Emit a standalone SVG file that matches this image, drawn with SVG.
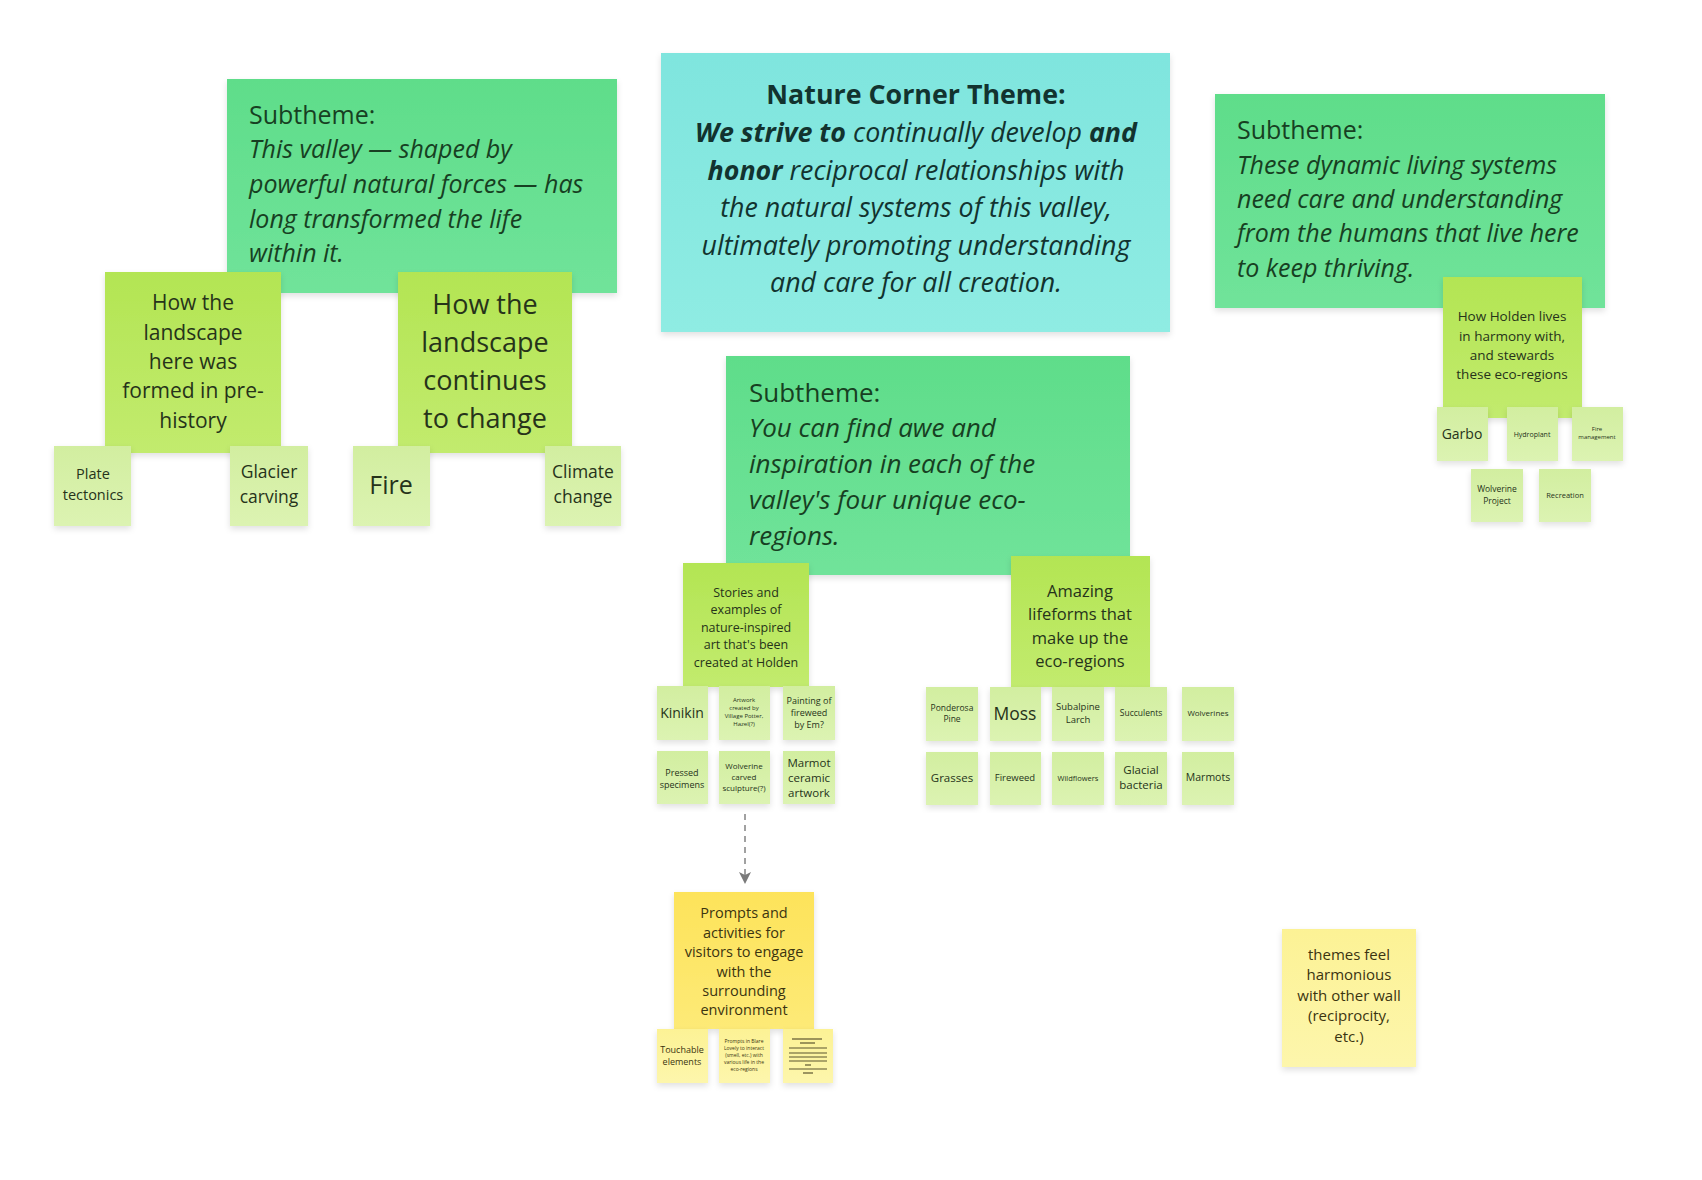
<svg xmlns="http://www.w3.org/2000/svg" width="1702" height="1180" viewBox="0 0 1702 1180">
<defs>
<filter id="sh" x="-10%" y="-10%" width="120%" height="125%">
<feDropShadow dx="0" dy="3" stdDeviation="3" flood-color="#000" flood-opacity="0.12"/>
</filter>
<linearGradient id="gTheme" x1="0" y1="0" x2="0" y2="1"><stop offset="0" stop-color="#7fe5de"/><stop offset="1" stop-color="#8fece3"/></linearGradient>
<linearGradient id="gSub" x1="0" y1="0" x2="0" y2="1"><stop offset="0" stop-color="#5fdd8a"/><stop offset="1" stop-color="#70e39a"/></linearGradient>
<linearGradient id="gLime" x1="0" y1="0" x2="0" y2="1"><stop offset="0" stop-color="#b3e553"/><stop offset="1" stop-color="#c2eb6e"/></linearGradient>
<linearGradient id="gPale" x1="0" y1="0" x2="0" y2="1"><stop offset="0" stop-color="#d2eea0"/><stop offset="1" stop-color="#dcf3b2"/></linearGradient>
<linearGradient id="gYel" x1="0" y1="0" x2="0" y2="1"><stop offset="0" stop-color="#fde35a"/><stop offset="1" stop-color="#fdea77"/></linearGradient>
<linearGradient id="gPaleYel" x1="0" y1="0" x2="0" y2="1"><stop offset="0" stop-color="#fcf295"/><stop offset="1" stop-color="#fdf6ac"/></linearGradient>
<style>
text{font-family:"Open Sans","Noto Sans","DejaVu Sans",sans-serif;}
.theme{fill:url(#gTheme);filter:url(#sh);}
.sub{fill:url(#gSub);filter:url(#sh);}
.lime{fill:url(#gLime);filter:url(#sh);}
.pale{fill:url(#gPale);filter:url(#sh);}
.yel{fill:url(#gYel);filter:url(#sh);}
.pyel{fill:url(#gPaleYel);filter:url(#sh);}
.tt{fill:#12332f;font-size:26.8px;text-anchor:middle;}
.st{fill:#173f22;font-size:25px;}
.it{font-style:italic;}
.b{font-weight:bold;}
.n{fill:#26331a;text-anchor:middle;}
.ny{fill:#3b3410;text-anchor:middle;}
.dl{stroke:#5b5530;stroke-width:1.2;}
</style>
</defs>
<rect width="1702" height="1180" fill="#ffffff"/>

<g id="connectors">
<line x1="745" y1="814" x2="745" y2="876" stroke="#8a8a8a" stroke-width="1.6" stroke-dasharray="6,5"/>
<path d="M739,872 L745,884 L751,872 L745,875 Z" fill="#7a7a7a"/>
</g>

<g id="theme">
<rect class="theme" x="661" y="53" width="509" height="279"/>
<text class="tt" x="916" y="104"><tspan class="b">Nature Corner Theme:</tspan></text>
<text class="tt" x="916" y="142"><tspan class="b it">We strive to</tspan><tspan class="it"> continually develop </tspan><tspan class="b it">and</tspan></text>
<text class="tt" x="916" y="180"><tspan class="b it">honor</tspan><tspan class="it"> reciprocal relationships with</tspan></text>
<text class="tt it" x="916" y="217">the natural systems of this valley,</text>
<text class="tt it" x="916" y="255">ultimately promoting understanding</text>
<text class="tt it" x="916" y="292">and care for all creation.</text>
</g>

<g id="subtheme-left">
<rect class="sub" x="227" y="79" width="390" height="214"/>
<text class="st" x="249" y="124">Subtheme:</text>
<text class="st it" x="249" y="158">This valley — shaped by</text>
<text class="st it" x="249" y="193">powerful natural forces — has</text>
<text class="st it" x="249" y="228">long transformed the life</text>
<text class="st it" x="249" y="262">within it.</text>
</g>

<g id="subtheme-right">
<rect class="sub" x="1215" y="94" width="390" height="214"/>
<text class="st" x="1237" y="139">Subtheme:</text>
<text class="st it" x="1237" y="174">These dynamic living systems</text>
<text class="st it" x="1237" y="208">need care and understanding</text>
<text class="st it" x="1237" y="242">from the humans that live here</text>
<text class="st it" x="1237" y="277">to keep thriving.</text>
</g>

<g id="subtheme-middle">
<rect class="sub" x="726" y="356" width="404" height="219"/>
<text class="st" x="749" y="402" style="font-size:26px">Subtheme:</text>
<text class="st it" x="749" y="437" style="font-size:26px">You can find awe and</text>
<text class="st it" x="749" y="473" style="font-size:26px">inspiration in each of the</text>
<text class="st it" x="749" y="509" style="font-size:26px">valley's four unique eco-</text>
<text class="st it" x="749" y="545" style="font-size:26px">regions.</text>
</g>

<g id="formed">
<rect class="lime" x="105" y="272" width="176" height="181"/>
<text class="n" x="193" style="font-size:21px"><tspan x="193" y="310">How the</tspan><tspan x="193" y="340">landscape</tspan><tspan x="193" y="369">here was</tspan><tspan x="193" y="398">formed in pre-</tspan><tspan x="193" y="428">history</tspan></text>
</g>

<g id="continues">
<rect class="lime" x="398" y="272" width="174" height="181"/>
<text class="n" x="485" style="font-size:27px"><tspan x="485" y="314">How the</tspan><tspan x="485" y="352">landscape</tspan><tspan x="485" y="390">continues</tspan><tspan x="485" y="428">to change</tspan></text>
</g>

<g id="plate">
<rect class="pale" x="54" y="446" width="77" height="80"/>
<text class="n" x="93" style="font-size:14.5px"><tspan x="93" y="479">Plate</tspan><tspan x="93" y="500">tectonics</tspan></text>
</g>
<g id="glacier">
<rect class="pale" x="230" y="446" width="78" height="80"/>
<text class="n" x="269" style="font-size:17.5px"><tspan x="269" y="478">Glacier</tspan><tspan x="269" y="503">carving</tspan></text>
</g>
<g id="fire">
<rect class="pale" x="353" y="446" width="77" height="80"/>
<text class="n" x="391" y="494" style="font-size:25px">Fire</text>
</g>
<g id="climate">
<rect class="pale" x="545" y="446" width="76" height="80"/>
<text class="n" x="583" style="font-size:17.5px"><tspan x="583" y="478">Climate</tspan><tspan x="583" y="503">change</tspan></text>
</g>

<g id="stories">
<rect class="lime" x="683" y="563" width="126" height="124"/>
<text class="n" x="746" style="font-size:12.5px"><tspan x="746" y="597">Stories and</tspan><tspan x="746" y="614">examples of</tspan><tspan x="746" y="632">nature-inspired</tspan><tspan x="746" y="649">art that's been</tspan><tspan x="746" y="667">created at Holden</tspan></text>
</g>

<g id="kinikin">
<rect class="pale" x="657" y="686" width="51" height="54"/>
<text class="n" x="682" y="718" style="font-size:14px">Kinikin</text>
</g>
<g id="artwork">
<rect class="pale" x="719" y="686" width="51" height="54"/>
<text class="n" x="744" style="font-size:6px"><tspan x="744" y="702">Artwork</tspan><tspan x="744" y="710">created by</tspan><tspan x="744" y="718">Village Potter,</tspan><tspan x="744" y="726">Hazel(?)</tspan></text>
</g>
<g id="painting">
<rect class="pale" x="783" y="686" width="52" height="54"/>
<text class="n" x="809" style="font-size:9px"><tspan x="809" y="704">Painting of</tspan><tspan x="809" y="716">fireweed</tspan><tspan x="809" y="728">by Em?</tspan></text>
</g>
<g id="pressed">
<rect class="pale" x="657" y="751" width="51" height="53"/>
<text class="n" x="682" style="font-size:9px"><tspan x="682" y="776">Pressed</tspan><tspan x="682" y="788">specimens</tspan></text>
</g>
<g id="wolverine-sculpture">
<rect class="pale" x="719" y="751" width="51" height="53"/>
<text class="n" x="744" style="font-size:8px"><tspan x="744" y="769">Wolverine</tspan><tspan x="744" y="780">carved</tspan><tspan x="744" y="791">sculpture(?)</tspan></text>
</g>
<g id="marmot-ceramic">
<rect class="pale" x="783" y="751" width="52" height="53"/>
<text class="n" x="809" style="font-size:11.5px"><tspan x="809" y="767">Marmot</tspan><tspan x="809" y="782">ceramic</tspan><tspan x="809" y="797">artwork</tspan></text>
</g>

<g id="prompts">
<rect class="yel" x="674" y="892" width="140" height="137"/>
<text class="ny" x="744" style="font-size:14.5px"><tspan x="744" y="918">Prompts and</tspan><tspan x="744" y="938">activities for</tspan><tspan x="744" y="957">visitors to engage</tspan><tspan x="744" y="977">with the</tspan><tspan x="744" y="996">surrounding</tspan><tspan x="744" y="1015">environment</tspan></text>
</g>
<g id="touchable">
<rect class="pyel" x="657" y="1029" width="51" height="54"/>
<text class="ny" x="682" style="font-size:9px"><tspan x="682" y="1053">Touchable</tspan><tspan x="682" y="1065">elements</tspan></text>
</g>
<g id="prompts-in">
<rect class="pyel" x="719" y="1029" width="51" height="54"/>
<text class="ny" x="744" style="font-size:5px"><tspan x="744" y="1043">Prompts in Blare</tspan><tspan x="744" y="1050">Lovely to interact</tspan><tspan x="744" y="1057">(smell, etc.) with</tspan><tspan x="744" y="1064">various life in the</tspan><tspan x="744" y="1071">eco-regions</tspan></text>
</g>
<g id="doc-note">
<rect class="pyel" x="783" y="1029" width="50" height="54"/>
<line class="dl" x1="792" y1="1039" x2="822" y2="1039"/>
<line class="dl" x1="800" y1="1043" x2="815" y2="1043"/>
<line class="dl" x1="789" y1="1048" x2="827" y2="1048"/>
<line class="dl" x1="789" y1="1053" x2="827" y2="1053"/>
<line class="dl" x1="789" y1="1057" x2="827" y2="1057"/>
<line class="dl" x1="789" y1="1061" x2="827" y2="1061"/>
<line class="dl" x1="805" y1="1065" x2="811" y2="1065"/>
<line class="dl" x1="789" y1="1069" x2="827" y2="1069"/>
<line class="dl" x1="803" y1="1073" x2="813" y2="1073"/>
</g>

<g id="lifeforms">
<rect class="lime" x="1011" y="556" width="139" height="131"/>
<text class="n" x="1080" style="font-size:16.5px"><tspan x="1080" y="597">Amazing</tspan><tspan x="1080" y="620">lifeforms that</tspan><tspan x="1080" y="644">make up the</tspan><tspan x="1080" y="667">eco-regions</tspan></text>
</g>

<g id="ponderosa">
<rect class="pale" x="926" y="687" width="52" height="54"/>
<text class="n" x="952" style="font-size:8.5px"><tspan x="952" y="711">Ponderosa</tspan><tspan x="952" y="722">Pine</tspan></text>
</g>
<g id="moss">
<rect class="pale" x="990" y="687" width="51" height="54"/>
<text class="n" x="1015" y="720" style="font-size:17.5px">Moss</text>
</g>
<g id="larch">
<rect class="pale" x="1052" y="687" width="52" height="54"/>
<text class="n" x="1078" style="font-size:9.5px"><tspan x="1078" y="710">Subalpine</tspan><tspan x="1078" y="723">Larch</tspan></text>
</g>
<g id="succulents">
<rect class="pale" x="1115" y="687" width="52" height="54"/>
<text class="n" x="1141" y="716" style="font-size:8.5px">Succulents</text>
</g>
<g id="wolverines">
<rect class="pale" x="1182" y="687" width="52" height="54"/>
<text class="n" x="1208" y="716" style="font-size:8px">Wolverines</text>
</g>
<g id="grasses">
<rect class="pale" x="926" y="752" width="52" height="53"/>
<text class="n" x="952" y="782" style="font-size:11.5px">Grasses</text>
</g>
<g id="fireweed">
<rect class="pale" x="990" y="752" width="51" height="53"/>
<text class="n" x="1015" y="781" style="font-size:9.5px">Fireweed</text>
</g>
<g id="wildflowers">
<rect class="pale" x="1052" y="752" width="52" height="53"/>
<text class="n" x="1078" y="781" style="font-size:7.5px">Wildflowers</text>
</g>
<g id="glacial-bacteria">
<rect class="pale" x="1115" y="752" width="52" height="53"/>
<text class="n" x="1141" style="font-size:11.5px"><tspan x="1141" y="774">Glacial</tspan><tspan x="1141" y="789">bacteria</tspan></text>
</g>
<g id="marmots">
<rect class="pale" x="1182" y="752" width="52" height="53"/>
<text class="n" x="1208" y="781" style="font-size:10.5px">Marmots</text>
</g>

<g id="holden">
<rect class="lime" x="1443" y="277" width="139" height="141"/>
<text class="n" x="1512" style="font-size:13.5px"><tspan x="1512" y="321">How Holden lives</tspan><tspan x="1512" y="341">in harmony with,</tspan><tspan x="1512" y="360">and stewards</tspan><tspan x="1512" y="379">these eco-regions</tspan></text>
</g>
<g id="garbo">
<rect class="pale" x="1437" y="407" width="51" height="54"/>
<text class="n" x="1462" y="439" style="font-size:14px">Garbo</text>
</g>
<g id="hydroplant">
<rect class="pale" x="1507" y="407" width="51" height="54"/>
<text class="n" x="1532" y="437" style="font-size:7px">Hydroplant</text>
</g>
<g id="fire-management">
<rect class="pale" x="1572" y="407" width="51" height="54"/>
<text class="n" x="1597" style="font-size:6px"><tspan x="1597" y="431">Fire</tspan><tspan x="1597" y="439">management</tspan></text>
</g>
<g id="wolverine-project">
<rect class="pale" x="1471" y="469" width="52" height="53"/>
<text class="n" x="1497" style="font-size:8.5px"><tspan x="1497" y="492">Wolverine</tspan><tspan x="1497" y="504">Project</tspan></text>
</g>
<g id="recreation">
<rect class="pale" x="1539" y="469" width="52" height="53"/>
<text class="n" x="1565" y="498" style="font-size:7.5px">Recreation</text>
</g>

<g id="themes-feel">
<rect class="pyel" x="1282" y="929" width="134" height="138"/>
<text class="ny" x="1349" style="font-size:15px"><tspan x="1349" y="960">themes feel</tspan><tspan x="1349" y="980">harmonious</tspan><tspan x="1349" y="1001">with other wall</tspan><tspan x="1349" y="1021">(reciprocity,</tspan><tspan x="1349" y="1042">etc.)</tspan></text>
</g>
</svg>
